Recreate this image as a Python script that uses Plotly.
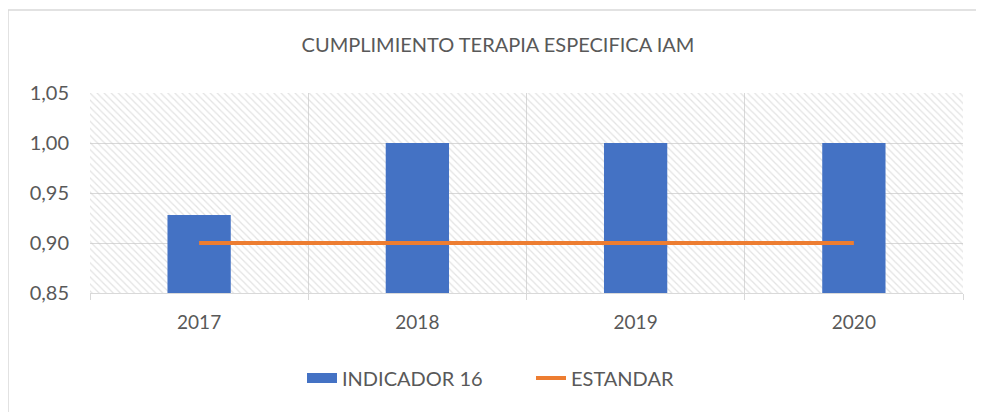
import plotly.graph_objects as go

# Data
years = ["2017", "2018", "2019", "2020"]
indicador_16 = [0.928, 1.0, 1.0, 1.0]
estandar = [0.90, 0.90, 0.90, 0.90]
y_ticks = [0.85, 0.90, 0.95, 1.00, 1.05]

Y_MIN, Y_MAX = 0.85, 1.05
TEXT = "#595959"
GRID = "#D9D9D9"
FONT = "Lato"
BLUE = "#4472C4"
ORANGE = "#ED7D31"

# page body has an 8px margin, so the figure is 976x404 placed at (8,8)
W, H = 976, 404
L, R, T, B = 82, 21, 85, 119
PW, PH = W - L - R, H - T - B

fig = go.Figure()

# hatched plot-area background (decoration), built from the axis range
fig.add_trace(go.Bar(
    x=years, y=[Y_MAX - Y_MIN] * len(years), base=[Y_MIN] * len(years),
    width=1.0, showlegend=False, hoverinfo="skip",
    marker=dict(color="rgba(0,0,0,0)", line=dict(width=0),
                pattern=dict(shape="\\", fgcolor="#C8C8C8", bgcolor="rgba(0,0,0,0)",
                             size=5, solidity=0.25, fillmode="overlay")),
))

fig.add_trace(go.Bar(
    x=years, y=indicador_16, name="INDICADOR 16", showlegend=False,
    width=0.29, marker=dict(color=BLUE, line=dict(width=0)),
    legendgroup="ind",
))
# legend swatch for the bars (wide rectangle like the original)
fig.add_trace(go.Scatter(
    x=[years[0]], y=[None], name="INDICADOR 16", mode="lines",
    line=dict(color=BLUE, width=14), legendgroup="ind", hoverinfo="skip",
))

fig.add_trace(go.Scatter(
    x=years, y=estandar, name="ESTANDAR", mode="lines",
    line=dict(color=ORANGE, width=4),
))

fig.update_layout(
    width=W, height=H,
    margin=dict(l=L, r=R, t=T, b=B),
    paper_bgcolor="white", plot_bgcolor="white",
    barmode="overlay",
    separators=",.",
    font=dict(family=FONT, color=TEXT, size=20),
    title=dict(text="CUMPLIMIENTO TERAPIA ESPECIFICA IAM",
               x=(498 - 8) / W, xanchor="center", y=1 - (45 - 8) / H, yanchor="middle",
               font=dict(family=FONT, size=20, color=TEXT)),
    xaxis=dict(type="category", range=[-0.5, 3.5], tickson="boundaries",
               showgrid=True, gridcolor=GRID, gridwidth=1,
               showline=True, linecolor=GRID, linewidth=1,
               ticks="outside", ticklen=6, tickcolor=GRID, ticklabelstandoff=12,
               tickfont=dict(size=19, color=TEXT), fixedrange=True),
    yaxis=dict(range=[Y_MIN, Y_MAX], tickvals=y_ticks, tickformat=".2f",
               showgrid=True, gridcolor=GRID, gridwidth=1,
               zeroline=False, showline=False, ticks="", ticklabelstandoff=20,
               tickfont=dict(size=20, color=TEXT), fixedrange=True),
    legend=dict(orientation="h", xref="container", yref="container",
                x=(531 - 8) / W, xanchor="center", y=1 - (378 - 8) / H, yanchor="middle",
                font=dict(size=20, color=TEXT), itemwidth=30,
                entrywidth=184, entrywidthmode="pixels",
                traceorder="normal"),
    shapes=[dict(type="rect", xref="paper", yref="paper",
                 x0=(0 - L) / PW, x1=(W + 10 - L) / PW,
                 y0=(T + PH - (H + 10)) / PH, y1=(T + PH - 2) / PH,
                 line=dict(color=GRID, width=1.5), layer="below")],
)

fig.write_html("out.html")
